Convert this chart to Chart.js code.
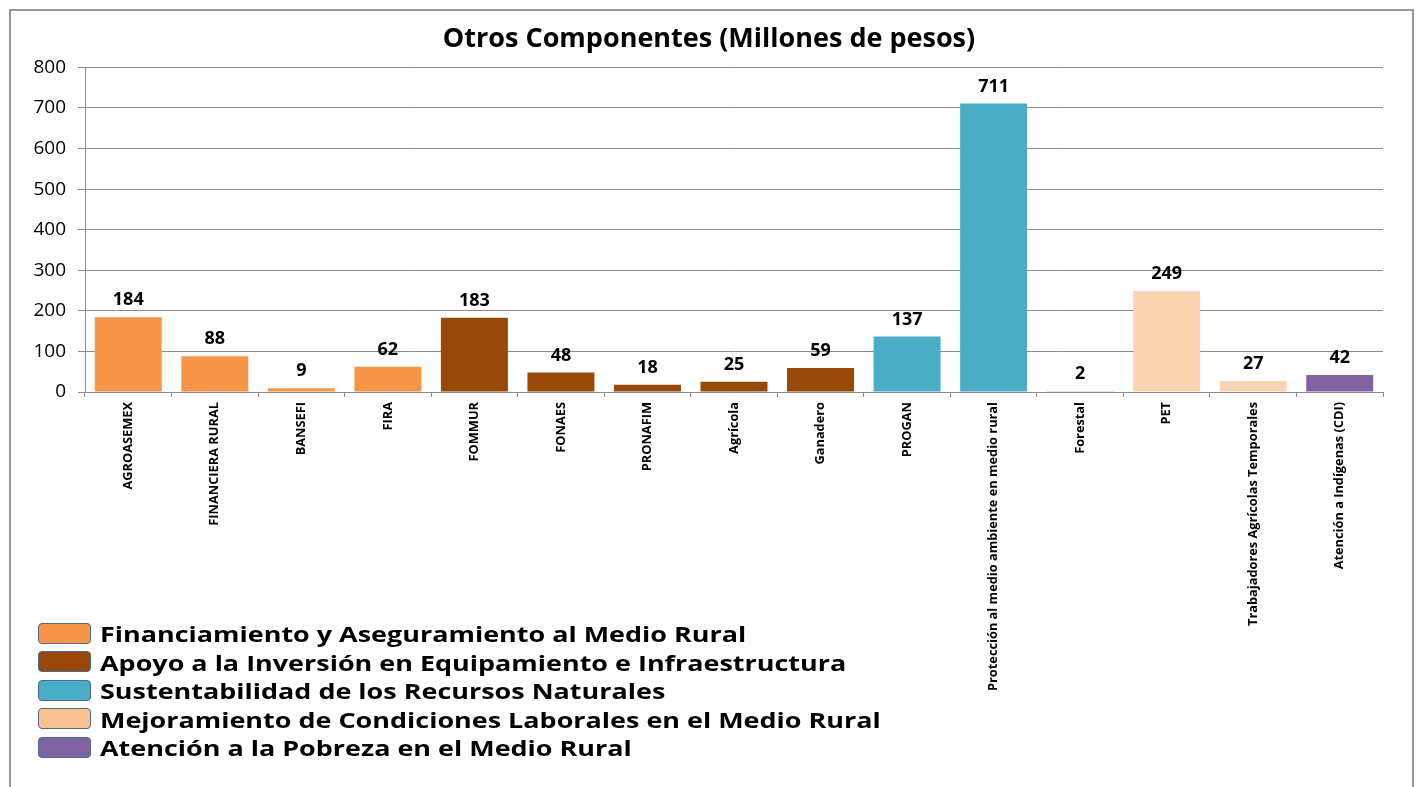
<!DOCTYPE html>
<html>
<head>
<meta charset="utf-8">
<script src="https://cdn.jsdelivr.net/npm/chart.js@4/dist/chart.umd.min.js"></script>
<style>
  body { margin: 0; width: 1418px; height: 787px; overflow: hidden; background: #fff; }
  #frame { position: absolute; left: 9px; top: 9px; width: 1401px; height: 820px; border: 2px solid #999; }
  #chart { position: absolute; left: 0; top: 0; }
  #legend { position: absolute; left: 38px; top: 619px; font-family: "Open Sans", sans-serif; font-weight: bold; font-size: 22px; color: #000; }
  .row { height: 28.5px; display: flex; align-items: center; }
  .sw { width: 51px; height: 19px; border: 1.5px solid #4a6a9a; border-radius: 4px; margin-right: 9px; flex: none; }
  .txt { display: inline-block; transform: scaleX(1.225); transform-origin: left center; white-space: nowrap; }
</style>
</head>
<body>
<div id="frame"></div>
<canvas id="chart" width="1418" height="787"></canvas>
<div id="legend"></div>
<script>
// data
var categories = ["AGROASEMEX", "FINANCIERA RURAL", "BANSEFI", "FIRA", "FOMMUR", "FONAES", "PRONAFIM",
  "Agrícola", "Ganadero", "PROGAN", "Protección al medio ambiente en medio rural", "Forestal", "PET",
  "Trabajadores Agrícolas Temporales", "Atención a Indígenas (CDI)"]
var values = [184, 88, 9, 62, 183, 48, 18, 25, 59, 137, 711, 2, 249, 27, 42]
var groupOf = [0, 0, 0, 0, 1, 1, 1, 1, 1, 2, 2, 2, 3, 3, 4]
var groupNames = ["Financiamiento y Aseguramiento al Medio Rural",
  "Apoyo a la Inversión en Equipamiento e Infraestructura",
  "Sustentabilidad de los Recursos Naturales",
  "Mejoramiento de Condiciones Laborales en el Medio Rural",
  "Atención a la Pobreza en el Medio Rural"]
var barColors = ["#F79646", "#984807", "#4BACC6", "#FBD4B3", "#8064A2"]
var swatchColors = ["#F79646", "#984807", "#4BACC6", "#FAC191", "#8064A2"]

var legend = document.getElementById('legend')
groupNames.forEach(function (name, i) {
  var row = document.createElement('div')
  row.className = 'row'
  var sw = document.createElement('span')
  sw.className = 'sw'
  sw.style.background = swatchColors[i]
  var txt = document.createElement('span')
  txt.className = 'txt'
  txt.textContent = name
  row.appendChild(sw)
  row.appendChild(txt)
  legend.appendChild(row)
})

// value labels above each bar
var valueLabels = {
  id: 'valueLabels',
  afterDatasetsDraw: function (chart) {
    var ctx = chart.ctx
    var meta = chart.getDatasetMeta(0)
    ctx.save()
    ctx.font = 'bold 18px "Open Sans", sans-serif'
    ctx.fillStyle = '#000'
    ctx.textAlign = 'center'
    ctx.textBaseline = 'bottom'
    meta.data.forEach(function (bar, i) {
      ctx.fillText(values[i], bar.x, bar.y - 8)
    })
    ctx.restore()
  }
}

var ctx = document.getElementById('chart').getContext('2d')
var chart = new Chart(ctx, {
  type: 'bar',
  data: {
    labels: categories,
    datasets: [{
      data: values,
      backgroundColor: groupOf.map(function (g) { return barColors[g] }),
      barPercentage: 0.9,
      categoryPercentage: 0.86
    }]
  },
  options: {
    responsive: false,
    animation: false,
    layout: { padding: 0 },
    plugins: {
      legend: { display: false },
      tooltip: { enabled: false },
      title: {
        display: true,
        text: 'Otros Componentes (Millones de pesos)',
        color: '#000',
        font: { family: '"Open Sans", sans-serif', size: 27, weight: 'bold' },
        padding: { top: 23, bottom: 12 }
      }
    },
    scales: {
      x: {
        afterFit: function (s) { s.height = 395 },
        grid: { drawOnChartArea: false, drawTicks: true, tickLength: 5, color: '#8a8a8a' },
        border: { color: '#8a8a8a' },
        ticks: {
          minRotation: 90, maxRotation: 90, autoSkip: false, padding: 5,
          color: '#000',
          font: { family: '"Open Sans", sans-serif', size: 12.8, weight: 'bold' }
        }
      },
      y: {
        min: 0, max: 800,
        afterFit: function (s) { s.width = 85 },
        grid: { color: '#8a8a8a', tickLength: 7 },
        border: { color: '#8a8a8a' },
        ticks: {
          stepSize: 100, padding: 12, color: '#000',
          font: { family: '"Open Sans", sans-serif', size: 19 }
        }
      },
      // empty right-hand axis, only keeps the margin on the right
      yRight: {
        position: 'right', min: 0, max: 800,
        afterFit: function (s) { s.width = 35 },
        grid: { display: false },
        border: { display: false },
        ticks: { display: false }
      }
    }
  },
  plugins: [valueLabels]
})
</script>
</body>
</html>
